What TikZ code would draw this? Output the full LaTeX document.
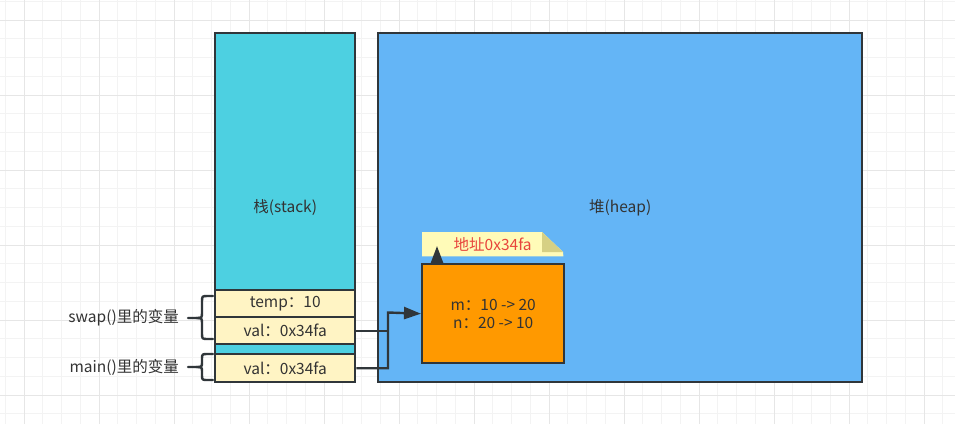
\documentclass[tikz,border=0pt]{standalone}
\usepackage{fontspec}
\setmainfont{Noto Sans CJK SC}
\usetikzlibrary{arrows.meta}
\definecolor{stackc}{HTML}{4DD0E1}
\definecolor{heapc}{HTML}{64B5F6}
\definecolor{cellc}{HTML}{FFF4C4}
\definecolor{orangec}{HTML}{FF9900}
\definecolor{notec}{HTML}{FFFBB8}
\definecolor{foldc}{HTML}{D6D084}
\definecolor{redtxt}{HTML}{E8453C}
\definecolor{edge}{HTML}{30363A}
\definecolor{txt}{HTML}{333333}
\definecolor{gminor}{HTML}{F3F3F3}
\definecolor{gmajor}{HTML}{E6E6E6}
\begin{document}
\begin{tikzpicture}[x=1pt,y=-1pt,
  every node/.style={font=\fontsize{15.5}{19}\selectfont, text=txt},
  box/.style={draw=edge, line width=2.4pt, inner sep=0pt, anchor=north west},
  conn/.style={draw=edge, line width=2.4pt},
  arr/.style={-{Triangle[length=17pt,width=12pt]}},
  brace/.style={draw=edge, line width=2.4pt, line cap=round, line join=round},
  gminorl/.style={draw=gminor, line width=0.9pt},
  gmajorl/.style={draw=gmajor, line width=1pt}]
\useasboundingbox (0,0) rectangle (955,424);
\fill[white] (0,0) rectangle (955,424);
\begin{scope}
\clip (0,0) rectangle (955,424);
\foreach \i in {-1,...,50} {\draw[gminorl] ({24+18.75*\i},0) -- ({24+18.75*\i},424);}
\foreach \i in {-2,...,22} {\draw[gminorl] (0,{20+18.75*\i}) -- (955,{20+18.75*\i});}
\foreach \i in {-1,...,13} {\draw[gmajorl] ({24+75*\i},0) -- ({24+75*\i},424);}
\foreach \i in {-1,...,6} {\draw[gmajorl] (0,{20+75*\i}) -- (955,{20+75*\i});}
\end{scope}

% stack and heap
\node[box, fill=stackc, minimum width=140pt, minimum height=349pt] (stack) at (214,32) {栈(stack)};
\node[box, fill=heapc, minimum width=484pt, minimum height=349pt] (heap) at (377,32) {堆(heap)};

% stack cells
\node[box, fill=cellc, minimum width=140pt, minimum height=27pt] (temp) at (214,289) {temp：10};
\node[box, fill=cellc, minimum width=140pt, minimum height=27pt] (val1) at (214,316) {val：0x34fa};
\node[box, fill=cellc, minimum width=140pt, minimum height=28pt] (mval) at (214,353) {val：0x34fa};

% object in heap
\node[box, fill=orangec, minimum width=142pt, minimum height=99pt, align=center] (ob) at (421,263) {m：10 -> 20\\[-1pt]n：20 -> 10};

% note
\node[inner sep=0pt, anchor=north west, minimum width=141pt, minimum height=24pt] (note) at (422,232) {};
\fill[notec] (note.north west) -- ++(120,0) -- ++(21,20) -- (note.south east) -- (note.south west) -- cycle;
\fill[foldc] (note.north west) ++(120,0) -- ++(0,20) -- ++(21,0) -- cycle;
\node[text=redtxt] (notetxt) at (note.center) {地址0x34fa};

% connectors
\coordinate (nt) at (437,246);
\draw[conn, arr] (ob.north west -| nt) -- (nt);
\coordinate (j) at (388,312.5);
\draw[conn] (val1.east) -- (val1.east -| j);
\draw[conn, arr] (mval.east) -| (j) -- (ob.west);

% braces
\draw[brace] (213,296) -- (208,296) .. controls (202,296) .. (202,302) -- (202,312) .. controls (202,318) .. (196,318) -- (188,318);
\draw[brace] (196,318) .. controls (202,318) .. (202,324) -- (202,333) .. controls (202,339) .. (208,339) -- (213,339);
\draw[brace] (213,354) -- (208,354) .. controls (202,354) .. (202,359) -- (202,362) .. controls (202,367) .. (196,367) -- (188,367);
\draw[brace] (196,367) .. controls (202,367) .. (202,372) -- (202,375) .. controls (202,380) .. (208,380) -- (213,380);

% labels
\node[anchor=east, inner sep=0pt] (swaplbl) at (179,318) {swap()里的变量};
\node[anchor=east, inner sep=0pt] (mainlbl) at (179,367) {main()里的变量};
\end{tikzpicture}
\end{document}
